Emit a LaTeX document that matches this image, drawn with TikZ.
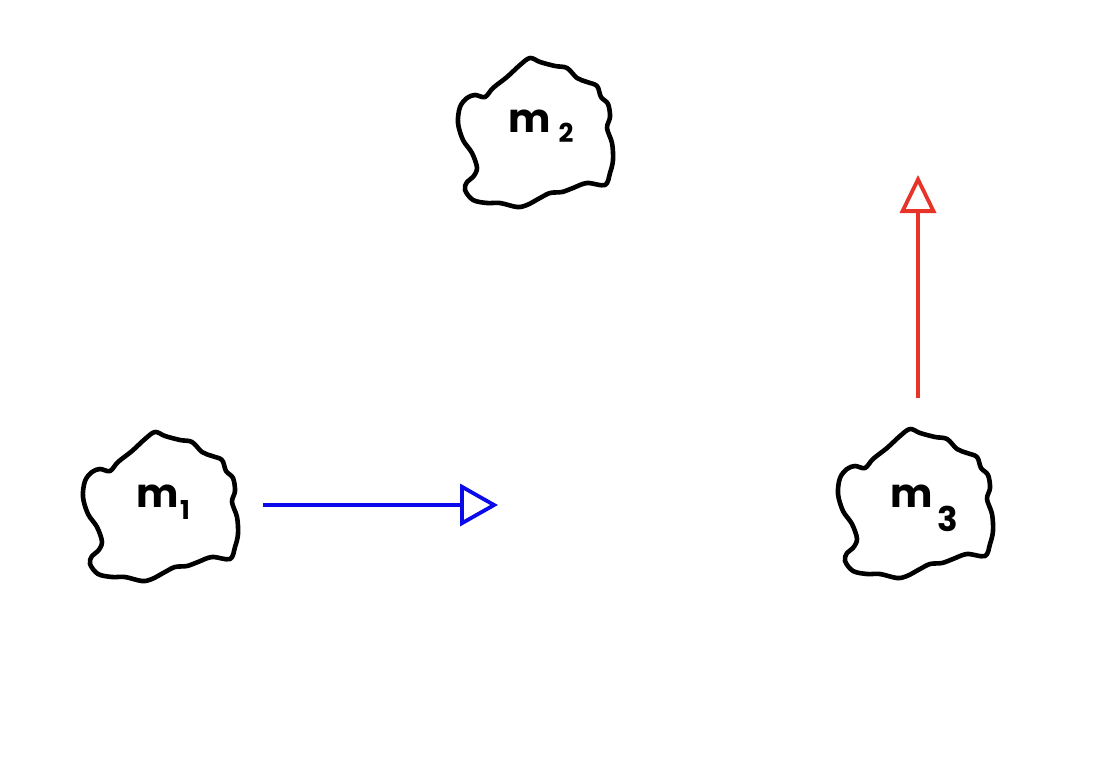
\documentclass[tikz,border=0pt]{standalone}
\usepackage{fontspec}
\setmainfont{Poppins}
\usetikzlibrary{arrows.meta}
\definecolor{myblue}{RGB}{10,10,235}
\definecolor{myred}{RGB}{232,52,40}
\tikzset{
  blob/.style={draw=black, line width=4.6pt, line join=round},
  mlabel/.style={inner sep=0pt, font=\fontsize{40}{40}\selectfont\bfseries},
  sublabel/.style={inner sep=0pt, font=\fontsize{26}{26}\selectfont\bfseries},
  vec/.style={line width=3.8pt, -{Triangle[open, length=38pt, width=42pt, line width=3.8pt]}},
}
\newcommand{\blobpath}{plot[smooth cycle, tension=0.55] coordinates {
(-5,-74) (5,-70) (20,-66) (32,-64) (42,-54) (52,-50) (62,-46) (66,-35) (73,-28) (75,-15)
(72,-4) (77,11) (78,28) (75,41) (70,53) (52,51) (38,56) (27,60) (15,61) (5,66) (-8,73)
(-18,75) (-35,71) (-48,71) (-62,68) (-70,58) (-68,50) (-62,45) (-58,36) (-63,21) (-72,8)
(-77,-9) (-75,-25) (-68,-34) (-60,-37) (-50,-35) (-42,-44) (-28,-55) (-15,-67)}}
\begin{document}
\begin{tikzpicture}[x=1pt, y=-1pt]
\useasboundingbox (0,0) rectangle (1099,778);
% blobs
\draw[blob, shift={(160,506)}] \blobpath;
\draw[blob, shift={(535,132)}] \blobpath;
\draw[blob, shift={(915,503)}] \blobpath;
% labels
\node[mlabel] (m1) at (158,496) {m};
\node[sublabel] (s1) at (185,510) {1};
\node[mlabel] (m2) at (530,121) {m};
\node[sublabel] (s2) at (566,133) {2};
\node[mlabel] (m3) at (912,496) {m};
\node[sublabel, font=\fontsize{34}{34}\selectfont\bfseries] (s3) at (948,519) {3};
% arrows
\coordinate (b0) at (263,505);
\coordinate (b1) at (498,505);
\coordinate (r0) at (918,398);
\coordinate (r1) at (918,175);
\draw[vec, myblue] (b0) -- (b1);
\draw[vec, myred, -{Triangle[open, length=38pt, width=36pt, line width=3.8pt]}] (r0) -- (r1);
\end{tikzpicture}
\end{document}
